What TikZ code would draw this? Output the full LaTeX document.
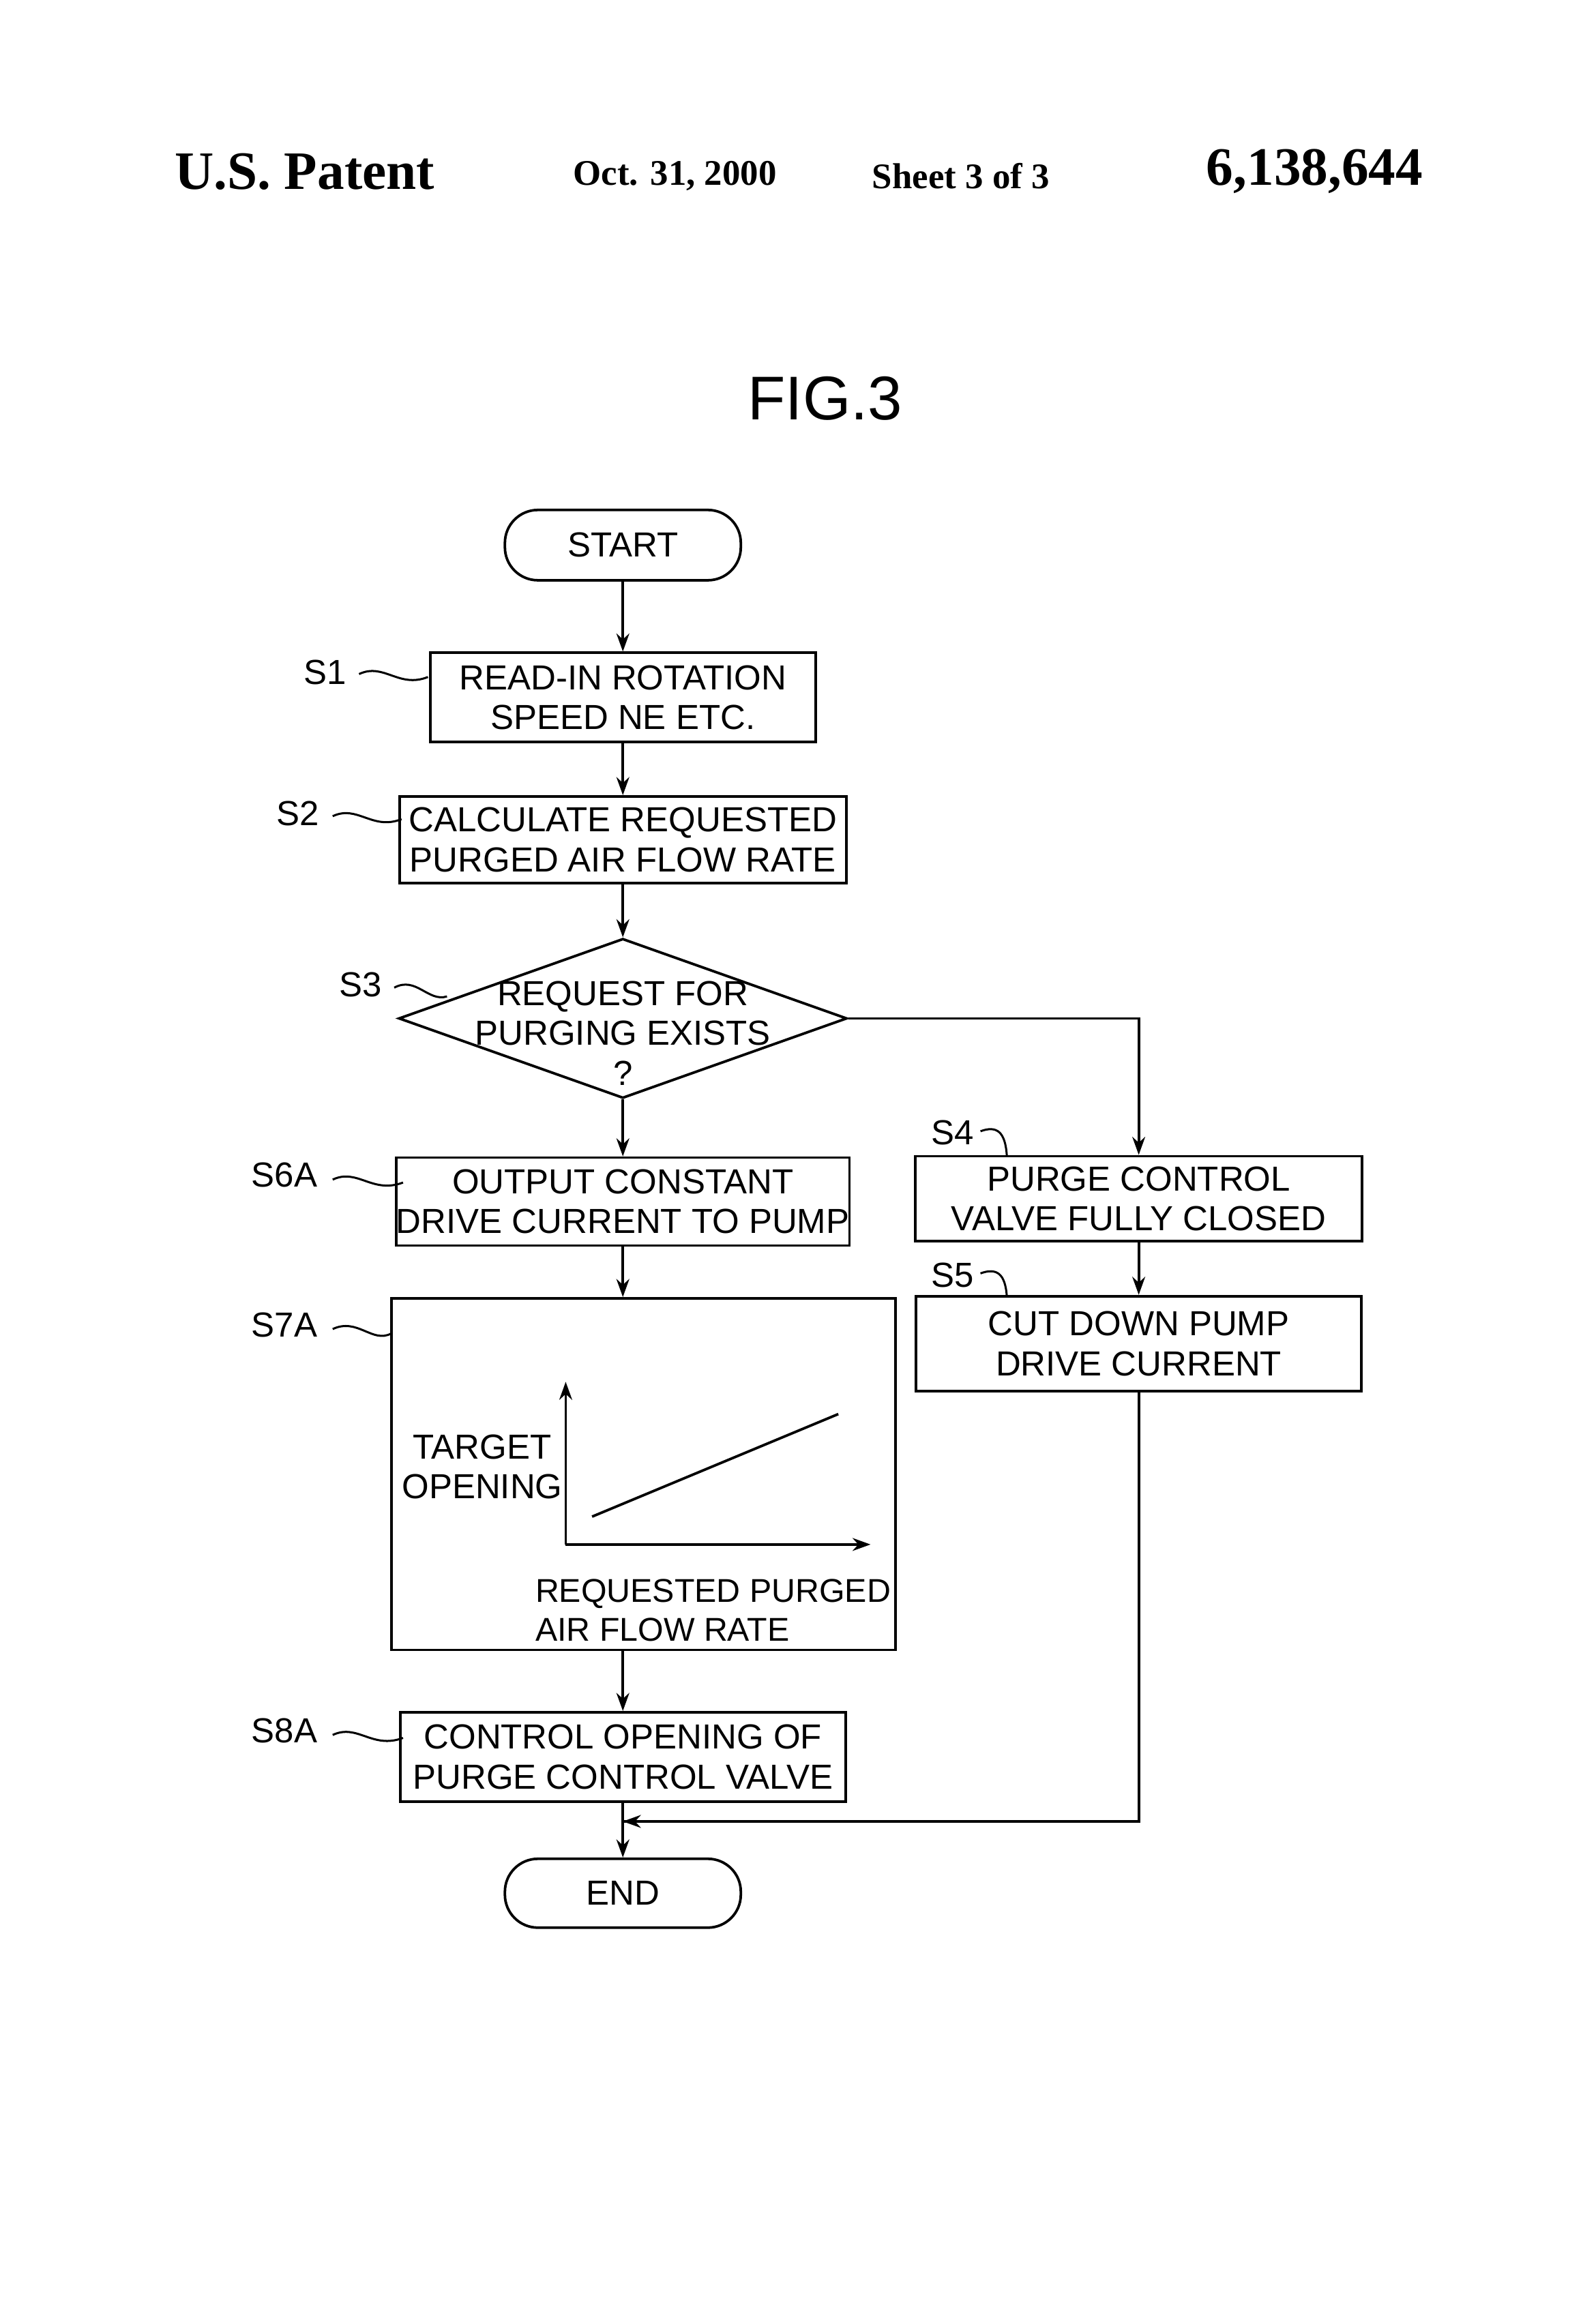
\documentclass[tikz,border=0pt]{standalone}
\usepackage{fontspec}
\setmainfont{Liberation Sans}
\newfontfamily\serifb{Liberation Serif}
\usetikzlibrary{shapes.geometric,arrows.meta}
\begin{document}
\begin{tikzpicture}[x=0.02cm,y=-0.02cm,
  box/.style={draw,line width=1pt,inner sep=0pt,align=center,font=\fontsize{13.5}{15.5}\selectfont},
  lbl/.style={font=\fontsize{13.5}{15.5}\selectfont},
  arr/.style={-{Stealth[length=7pt,width=5pt]},line width=1pt},
  sq/.style={line width=0.8pt}]
\useasboundingbox (0,0) rectangle (1080,1586);
\node[font=\serifb\bfseries\fontsize{21}{24}\selectfont,anchor=west] at (113,117) {U.S. Patent};
\node[font=\serifb\bfseries\fontsize{14}{16}\selectfont,anchor=west] at (385,120) {Oct. 31, 2000};
\node[font=\serifb\bfseries\fontsize{14}{16}\selectfont,anchor=west] at (589,120) {Sheet 3 of 3};
\node[font=\serifb\bfseries\fontsize{21}{24}\selectfont,anchor=east] at (977,117) {6,138,644};
\node[font=\fontsize{24}{26}\selectfont] at (563,272) {FIG.3};
\node[box,rounded corners=0.45cm,minimum width=3.22cm,minimum height=0.96cm] (st) at (425,372) {START};
\node[box,minimum width=5.26cm,minimum height=1.22cm] (s1) at (425,476) {READ-IN ROTATION\\SPEED NE ETC.};
\node[box,minimum width=6.1cm,minimum height=1.18cm] (s2) at (425,573) {CALCULATE REQUESTED\\PURGED AIR FLOW RATE};
\node[draw,line width=1pt,diamond,aspect=2.8,minimum width=6.12cm,minimum height=2.18cm,inner sep=0pt] (s3) at (425,695) {};
\node[lbl,align=center] at (425,705) {REQUEST FOR\\PURGING EXISTS\\?};
\node[box,minimum width=6.06cm,minimum height=1.2cm] (s6) at (425,820) {OUTPUT CONSTANT\\DRIVE CURRENT TO PUMP};
\node[box,minimum width=6.1cm,minimum height=1.16cm] (s4) at (777,818) {PURGE CONTROL\\VALVE FULLY CLOSED};
\node[box,minimum width=6.08cm,minimum height=1.3cm] (s5) at (777,917) {CUT DOWN PUMP\\DRIVE CURRENT};
\node[draw,line width=1pt,minimum width=6.88cm,minimum height=4.8cm,inner sep=0pt] (s7) at (439,1006) {};
\node[box,minimum width=6.08cm,minimum height=1.22cm] (s8) at (425,1199) {CONTROL OPENING OF\\PURGE CONTROL VALVE};
\node[box,rounded corners=0.45cm,minimum width=3.22cm,minimum height=0.94cm] (en) at (425,1292) {END};
% graph
\coordinate (o) at (386,1054);
\coordinate (ya) at (386,943);
\coordinate (xa) at (594,1054);
\draw[arr] (o) -- (ya);
\draw[arr] (o) -- (xa);
\draw[line width=1pt] (404,1035) -- (572,965);
\node[lbl,align=center] at (329,1001) {TARGET\\OPENING};
\node[font=\fontsize{12.8}{15}\selectfont,align=left,anchor=west,inner sep=0pt] at (365,1099) {REQUESTED PURGED\\AIR FLOW RATE};
% connectors
\draw[arr] (st) -- (s1);
\draw[arr] (s1) -- (s2);
\draw[arr] (s2) -- (s3);
\draw[arr] (s3) -- (s6);
\draw[arr] (s3.east) -| (s4);
\draw[arr] (s4) -- (s5);
\draw[arr] (s6) -- (s6 |- s7.north);
\draw[arr] (s8 |- s7.south) -- (s8);
\coordinate (m) at (425,1243);
\draw[line width=1pt] (s5.south) |- (m);
\draw[arr] (s5.south |- m) -- (m);
\draw[arr] (s8) -- (en);
% step labels
\node[lbl] at (222,459) {S1};
\draw[sq] (245,460) .. controls (262,452) and (272,470) .. (292,462);
\node[lbl] at (203,555) {S2};
\draw[sq] (227,557) .. controls (244,549) and (254,567) .. (274,559);
\node[lbl] at (246,672) {S3};
\draw[sq] (269,674) .. controls (284,666) and (292,684) .. (305,680);
\node[lbl] at (194,802) {S6A};
\draw[sq] (227,805) .. controls (244,797) and (254,815) .. (275,807);
\node[lbl] at (194,904) {S7A};
\draw[sq] (227,907) .. controls (244,899) and (254,917) .. (267,910);
\node[lbl] at (194,1181) {S8A};
\draw[sq] (227,1184) .. controls (244,1176) and (254,1194) .. (275,1186);
\node[lbl] at (650,773) {S4};
\draw[sq] (669,772) .. controls (680,768) and (686,772) .. (687,789);
\node[lbl] at (650,870) {S5};
\draw[sq] (669,869) .. controls (680,865) and (686,869) .. (687,885);
\end{tikzpicture}
\end{document}
